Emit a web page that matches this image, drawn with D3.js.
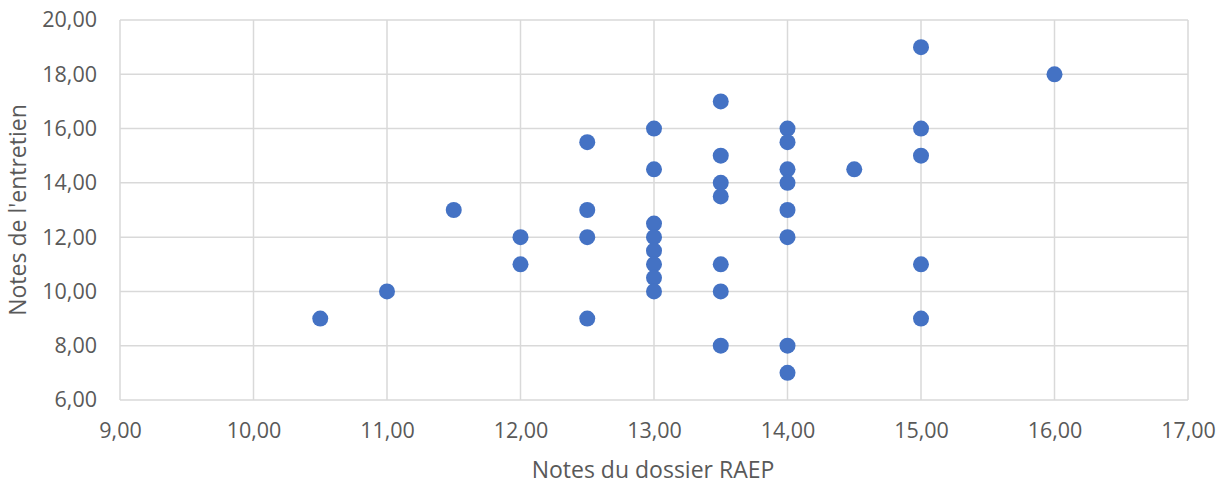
<!DOCTYPE html>
<html><head><meta charset="utf-8">
<script src="https://cdn.jsdelivr.net/npm/d3@7"></script>
<style>body{margin:0;background:#fff;} text{font-family:"Open Sans","Noto Sans",sans-serif;}</style>
</head><body>
<svg id="c" width="1228" height="485"></svg>
<script>
const dossier = [10.5,11,11.5,12,12,12.5,12.5,12.5,12.5,13,13,13,13,13,13,13,13,13.5,13.5,13.5,13.5,13.5,13.5,13.5,14,14,14,14,14,14,14,14,14.5,15,15,15,15,15,16];
const entretien = [9,10,13,12,11,15.5,13,12,9,16,14.5,12.5,12,11.5,11,10.5,10,17,15,14,13.5,11,10,8,16,15.5,14.5,14,13,12,8,7,14.5,19,16,15,11,9,18];
const xTicks = [9,10,11,12,13,14,15,16,17];
const yTicks = [6,8,10,12,14,16,18,20];
const xTitle = "Notes du dossier RAEP";
const yTitle = "Notes de l'entretien";

const svg = d3.select("#c");
const L=120,R=1188,T=20,B=400;
const x = d3.scaleLinear().domain([9,17]).range([L,R]);
const y = d3.scaleLinear().domain([6,20]).range([B,T]);
const fmt = d => d.toFixed(2).replace(".", ",");
const grid = "#d9d9d9";

svg.append("g").selectAll("line").data(xTicks).join("line")
  .attr("x1",d=>x(d)).attr("x2",d=>x(d)).attr("y1",T).attr("y2",B)
  .attr("stroke",grid).attr("stroke-width",1.5);
svg.append("g").selectAll("line").data(yTicks).join("line")
  .attr("y1",d=>y(d)).attr("y2",d=>y(d)).attr("x1",L).attr("x2",R)
  .attr("stroke",grid).attr("stroke-width",1.5);

const xAxis = d3.axisBottom(x).tickValues(xTicks).tickFormat(fmt).tickSize(0).tickPadding(23);
const gx = svg.append("g").attr("transform",`translate(0,${B})`).call(xAxis);
gx.select(".domain").remove();
gx.selectAll("text").attr("fill","#595959").style("font-size","21.5px");

const yAxis = d3.axisLeft(y).tickValues(yTicks).tickFormat(fmt).tickSize(0).tickPadding(23);
const gy = svg.append("g").attr("transform",`translate(${L},0)`).call(yAxis);
gy.select(".domain").remove();
gy.selectAll("text").attr("fill","#595959").style("font-size","21.5px");

svg.append("text").attr("x",(L+R)/2-1).attr("y",472).attr("text-anchor","middle")
  .attr("dominant-baseline","middle").attr("fill","#595959").style("font-size","23px").text(xTitle);
svg.append("text").attr("transform",`translate(20,${(T+B)/2}) rotate(-90)`).attr("text-anchor","middle")
  .attr("dominant-baseline","middle").attr("fill","#595959").style("font-size","23px").text(yTitle);

svg.append("g").selectAll("circle").data(dossier.map((d,i)=>[d,entretien[i]])).join("circle")
  .attr("cx",d=>x(d[0])).attr("cy",d=>y(d[1])).attr("r",8).attr("fill","#4472C4");
</script>
</body></html>
